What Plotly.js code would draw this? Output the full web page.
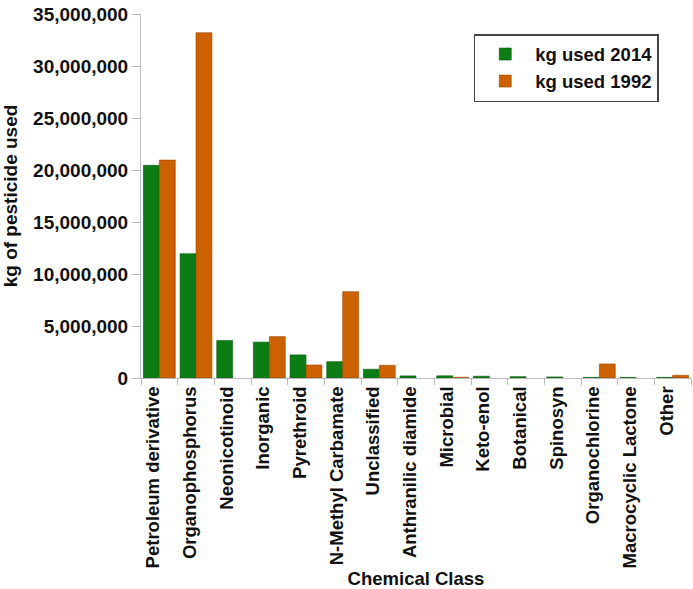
<!DOCTYPE html>
<html>
<head>
<meta charset="utf-8">
<script src="https://cdn.plot.ly/plotly-3.0.1.min.js"></script>
<style>html,body{margin:0;padding:0;background:#fff;}#chart{width:693px;height:589px;}</style>
</head>
<body>
<div id="chart"></div>
<script>
const categories = ["Petroleum derivative","Organophosphorus","Neonicotinoid","Inorganic","Pyrethroid","N-Methyl Carbamate","Unclassified","Anthranilic diamide","Microbial","Keto-enol","Botanical","Spinosyn","Organochlorine","Macrocyclic Lactone","Other"];
const kg2014 = [20450000, 11950000, 3600000, 3450000, 2220000, 1570000, 840000, 200000, 210000, 170000, 130000, 100000, 60000, 60000, 60000];
const kg1992 = [20950000, 33200000, null, 3980000, 1250000, 8300000, 1220000, null, 70000, null, null, null, 1350000, null, 260000];
const seriesNames = ["kg used 2014", "kg used 1992"];
const yTicks = [0, 5000000, 10000000, 15000000, 20000000, 25000000, 30000000, 35000000];

const FONT = "Liberation Sans, Arial, Helvetica, sans-serif";
const traces = [
  {type:'bar', name:seriesNames[0], x:categories, y:kg2014,
   marker:{color:'#0b7d14', line:{color:'#075a0d', width:0.6}}},
  {type:'bar', name:seriesNames[1], x:categories, y:kg1992,
   marker:{color:'#cc6100', line:{color:'#9a4800', width:0.6}}}
];
const layout = {
  width:693, height:589,
  margin:{l:141, r:2, t:14, b:211},
  paper_bgcolor:'#fff', plot_bgcolor:'#fff',
  font:{family:FONT, size:18, color:'#111', weight:'bold'},
  barmode:'group', bargap:0.13, bargroupgap:0,
  showlegend:true,
  legend:{x:0.605, y:0.945, xanchor:'left', yanchor:'top',
    bgcolor:'#fff', bordercolor:'#444', borderwidth:1.5,
    font:{family:FONT, size:18.5, color:'#111', weight:'bold'},
    itemwidth:50, tracegroupgap:0, traceorder:'normal'},
  xaxis:{
    type:'category', tickangle:-90, tickson:'boundaries',
    ticks:'outside', ticklen:6, tickcolor:'#bbb', tickwidth:1,
    showline:true, linecolor:'#bbb', linewidth:1, showgrid:false,
    ticklabelshift:-6, ticklabelstandoff:0,
    tickfont:{family:FONT, size:18.5, color:'#111', weight:'bold'},
    title:{text:'Chemical Class', font:{family:FONT, size:18.5, color:'#111', weight:'bold'}, standoff:6},
    automargin:false
  },
  yaxis:{
    range:[0, 35000000], tickvals:yTicks, tickformat:',d',
    ticks:'outside', ticklen:8, tickcolor:'#bbb', tickwidth:1,
    showline:true, linecolor:'#bbb', linewidth:1, showgrid:false, zeroline:false,
    tickfont:{family:FONT, size:19, color:'#111', weight:'bold'},
    title:{text:'kg of pesticide used', font:{family:FONT, size:19, color:'#111', weight:'bold'}, standoff:12},
    automargin:false
  }
};
Plotly.newPlot('chart', traces, layout, {displayModeBar:false, staticPlot:true});
</script>
</body>
</html>
